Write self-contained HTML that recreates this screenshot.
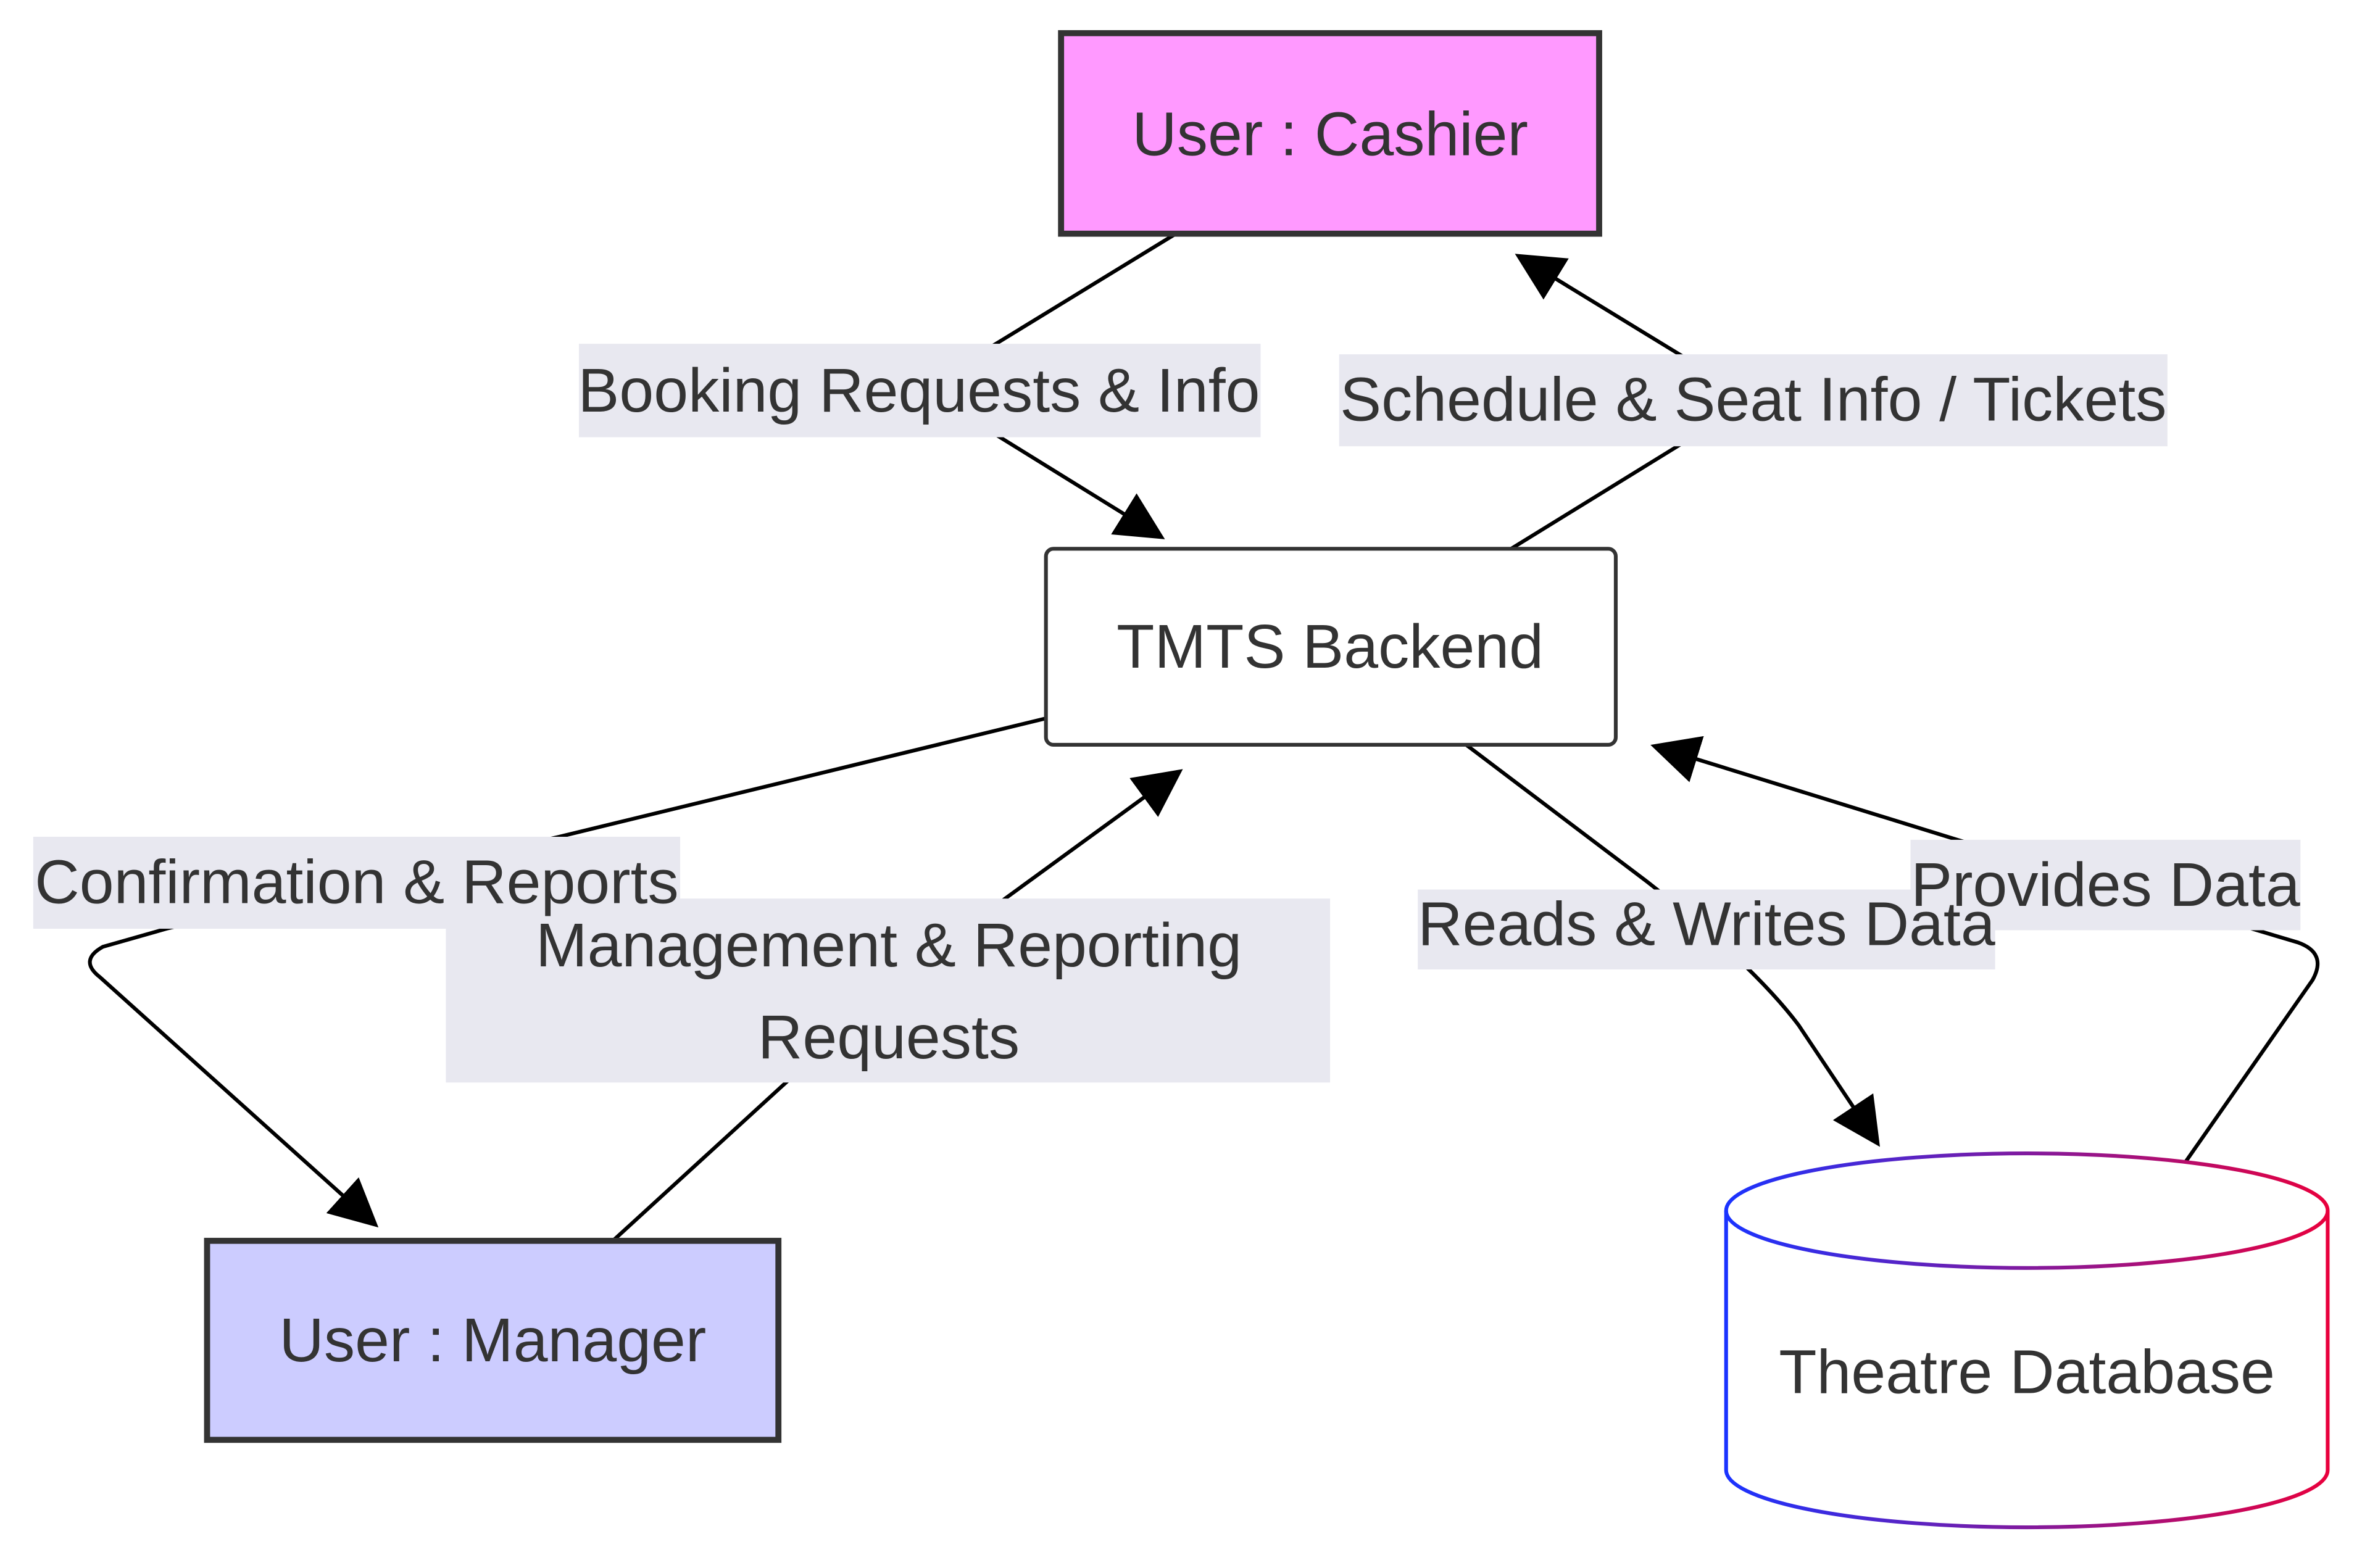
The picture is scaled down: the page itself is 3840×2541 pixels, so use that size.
<!DOCTYPE html>
<html><head><meta charset="utf-8"><style>
html,body{margin:0;padding:0;background:#fff;}
svg{display:block;}
text{font-family:"Liberation Sans",Arial,sans-serif;fill:#333;text-anchor:middle;dominant-baseline:central;}
</style></head><body>
<svg width="3840" height="2541" viewBox="0 0 1568 1040" preserveAspectRatio="none" xmlns="http://www.w3.org/2000/svg">
<defs>
<marker id="b" viewBox="0 0 10 10" refX="9" refY="5" markerWidth="32" markerHeight="32" markerUnits="userSpaceOnUse" orient="auto">
<path d="M0,0 L10,5 L0,10 z" fill="#000"/></marker>
<linearGradient id="g" x1="0" x2="1" y1="0" y2="0"><stop offset="0" stop-color="#1a33ff"/><stop offset="1" stop-color="#e8003d"/></linearGradient>
</defs>
<g fill="none" stroke="#000" stroke-width="2.5">
<path d="M778,155 L610,258 L768,356" marker-end="url(#b)"/>
<path d="M990,370 L1160,265 L1005,170" marker-end="url(#b)"/>
<path d="M698,475 L370,555 L236,585 L110,616 L68,628 Q52,637 66,648 L248,812" marker-end="url(#b)"/>
<path d="M400,828 L520,718 L588,657 L665,596 L780,512" marker-end="url(#b)"/>
<path d="M970,494 L1090,585 Q1160,640 1190,680 L1242,758" marker-end="url(#b)"/>
<path d="M1445,772 L1530,650 Q1540,632 1520,625 L1393,587 L1295,557 L1095,495" marker-end="url(#b)"/>
</g>
<rect x="702" y="22" width="356" height="133" fill="#ff99ff" stroke="#333" stroke-width="4"/>
<text x="880" y="89" font-size="41">User : Cashier</text>
<rect x="692" y="364" width="377" height="130" rx="5" fill="#fff" stroke="#333" stroke-width="2.5"/>
<text x="880" y="429" font-size="41">TMTS Backend</text>
<rect x="137" y="823" width="378" height="132" fill="#ccccff" stroke="#333" stroke-width="4"/>
<text x="326" y="889" font-size="41">User : Manager</text>
<path d="M1142,803 A199,38 0 0 1 1540,803 L1540,975 A199,38 0 0 1 1142,975 Z" fill="#fff" stroke="url(#g)" stroke-width="2.5"/>
<path d="M1142,803 A199,38 0 0 0 1540,803" fill="none" stroke="url(#g)" stroke-width="2.5"/>
<text x="1341" y="910" font-size="41">Theatre Database</text>
<g fill="#e8e8f0">
<rect x="383" y="228" width="451" height="62"/>
<rect x="886" y="235" width="548" height="61"/>
<rect x="22" y="555" width="428" height="61"/>
<rect x="295" y="596" width="585" height="122"/>
<rect x="938" y="590" width="382" height="53"/>
<rect x="1264" y="557" width="258" height="60"/>
</g>
<g font-size="41">
<text x="608" y="259">Booking Requests &amp; Info</text>
<text x="1160" y="265">Schedule &amp; Seat Info / Tickets</text>
<text x="236" y="585">Confirmation &amp; Reports</text>
<text x="588" y="627">Management &amp; Reporting</text>
<text x="588" y="688">Requests</text>
<text x="1129" y="613">Reads &amp; Writes Data</text>
<text x="1393" y="587">Provides Data</text>
</g>
</svg>
</body></html>
